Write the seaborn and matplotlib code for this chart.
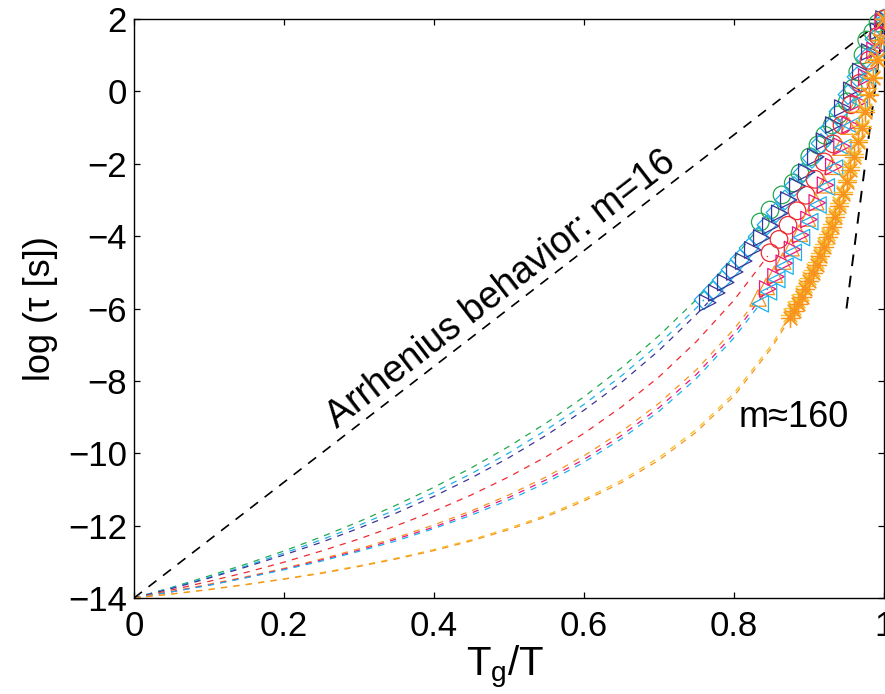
import numpy as np
import pandas as pd
import matplotlib
matplotlib.use("Agg")
import matplotlib.pyplot as plt
import seaborn as sns

# ---------------- data ----------------
FIT_GRID = [0.0, 0.05, 0.10, 0.15, 0.20, 0.25, 0.30, 0.35, 0.40, 0.45,
            0.50, 0.55, 0.60, 0.65, 0.70, 0.75, 0.80, 0.85]

# dashed fit curves (end x appended to the grid)
FIT_END_A = 0.835
FIT_Y_A = [-14, -13.71, -13.39, -13.06, -12.70, -12.31, -11.89, -11.43, -10.94, -10.40,
           -9.81, -9.16, -8.44, -7.64, -6.75, -5.75, -4.61, -3.72]
FIT_END_B = 0.76
FIT_Y_B = [-14, -13.72, -13.43, -13.11, -12.76, -12.39, -11.99, -11.55, -11.08, -10.56,
           -9.99, -9.35, -8.65, -7.86, -6.98, -5.98, -5.76]
FIT_END_C = 0.765
FIT_Y_C = [-14, -13.74, -13.45, -13.14, -12.81, -12.46, -12.07, -11.65, -11.19, -10.68,
           -10.12, -9.50, -8.81, -8.04, -7.16, -6.16, -5.84]
FIT_END_D = 0.845
FIT_Y_D = [-14, -13.78, -13.54, -13.29, -13.01, -12.70, -12.37, -12.00, -11.60, -11.15,
           -10.65, -10.09, -9.45, -8.72, -7.89, -6.91, -5.77, -4.55]
FIT_END_E = 0.832
FIT_Y_E = [-14, -13.82, -13.62, -13.41, -13.18, -12.92, -12.64, -12.33, -11.98, -11.59,
           -11.15, -10.65, -10.07, -9.40, -8.62, -7.69, -6.57, -5.71]
FIT_END_F = 0.845
FIT_Y_F = [-14, -13.83, -13.64, -13.43, -13.20, -12.95, -12.68, -12.37, -12.04, -11.65,
           -11.22, -10.73, -10.17, -9.51, -8.74, -7.82, -6.70, -5.46]
FIT_END_G = 0.835
FIT_Y_G = [-14, -13.83, -13.65, -13.44, -13.22, -12.98, -12.71, -12.42, -12.08, -11.71,
           -11.29, -10.81, -10.25, -9.60, -8.84, -7.93, -6.81, -5.87]
FIT_END_H = 0.875
FIT_Y_H = [-14, -13.89, -13.76, -13.62, -13.47, -13.30, -13.11, -12.90, -12.66, -12.39,
           -12.07, -11.71, -11.27, -10.75, -10.12, -9.34, -8.34, -7.01, -6.17]
FIT_END_I = 0.875
FIT_Y_I = [-14, -13.89, -13.77, -13.63, -13.48, -13.32, -13.13, -12.92, -12.69, -12.42,
           -12.11, -11.75, -11.32, -10.81, -10.19, -9.41, -8.42, -7.09, -6.26]

# measured points
PTS_X_A = [0.835, 0.848, 0.864, 0.879, 0.888, 0.901, 0.912, 0.921, 0.931, 0.939,
           0.951, 0.959, 0.965, 0.972, 0.977, 0.985, 0.992, 1.0]
PTS_Y_A = [-3.61, -3.28, -2.86, -2.53, -2.26, -1.81, -1.48, -1.21, -0.93, -0.65,
           -0.29, 0.09, 0.54, 1.01, 1.42, 1.64, 1.89, 2.0]
PTS_X_B = [0.76, 0.772, 0.784, 0.796, 0.808, 0.82, 0.832, 0.844, 0.856, 0.868, 0.88,
           0.892, 0.904, 0.916, 0.928, 0.94, 0.952, 0.964, 0.976, 0.988, 1.0]
PTS_Y_B = [-5.76, -5.50, -5.22, -4.93, -4.64, -4.33, -4.02, -3.69, -3.35, -3.00, -2.63,
           -2.25, -1.85, -1.44, -1.01, -0.56, -0.09, 0.40, 0.91, 1.44, 2.0]
PTS_X_C = [0.765, 0.777, 0.789, 0.801, 0.813, 0.825, 0.837, 0.849, 0.861, 0.873, 0.885,
           0.897, 0.909, 0.921, 0.933, 0.945, 0.957, 0.969, 0.981, 0.993, 1.0]
PTS_Y_C = [-5.84, -5.57, -5.28, -4.99, -4.69, -4.38, -4.05, -3.72, -3.37, -3.00, -2.62,
           -2.23, -1.81, -1.38, -0.93, -0.46, 0.03, 0.55, 1.09, 1.66, 2.0]
PTS_X_D = [0.848, 0.86, 0.872, 0.884, 0.896, 0.908, 0.92, 0.932, 0.944, 0.956, 0.968,
           0.98, 0.992, 1.0]
PTS_Y_D = [-4.46, -4.09, -3.70, -3.30, -2.87, -2.43, -1.95, -1.45, -0.93, -0.37, 0.23,
           0.86, 1.53, 2.0]
PTS_X_E = [0.832, 0.843, 0.854, 0.865, 0.876, 0.887, 0.898, 0.909, 0.92, 0.931, 0.942,
           0.953, 0.964, 0.975, 0.986, 0.997]
PTS_Y_E = [-5.71, -5.39, -5.05, -4.69, -4.32, -3.92, -3.50, -3.05, -2.58, -2.07, -1.54,
           -0.96, -0.35, 0.31, 1.02, 1.78]
PTS_X_F = [0.845, 0.856, 0.867, 0.878, 0.889, 0.9, 0.911, 0.922, 0.933, 0.944, 0.955,
           0.966, 0.977, 0.988, 0.999]
PTS_Y_F = [-5.46, -5.12, -4.75, -4.37, -3.97, -3.54, -3.08, -2.59, -2.08, -1.52, -0.93,
           -0.30, 0.39, 1.13, 1.92]
PTS_X_G = [0.835, 0.846, 0.857, 0.868, 0.879, 0.89, 0.901, 0.912, 0.923, 0.934, 0.945,
           0.956, 0.967, 0.978, 0.989, 1.0]
PTS_Y_G = [-5.87, -5.54, -5.20, -4.83, -4.45, -4.04, -3.60, -3.14, -2.64, -2.12, -1.55,
           -0.95, -0.29, 0.41, 1.17, 2.0]
PTS_X_H = [0.875, 0.88, 0.885, 0.89, 0.895, 0.9, 0.905, 0.91, 0.915, 0.92, 0.925, 0.93,
           0.935, 0.94, 0.945, 0.95, 0.955, 0.96, 0.965, 0.97, 0.975, 0.98, 0.985, 0.99,
           0.995, 1.0]
PTS_Y_H = [-6.17, -5.98, -5.79, -5.59, -5.38, -5.17, -4.94, -4.71, -4.47, -4.21, -3.95,
           -3.67, -3.39, -3.09, -2.77, -2.44, -2.09, -1.73, -1.35, -0.95, -0.52, -0.07,
           0.40, 0.90, 1.43, 2.0]
PTS_X_I = PTS_X_H
PTS_Y_I = [-6.26, -6.07, -5.88, -5.68, -5.47, -5.25, -5.03, -4.79, -4.55, -4.30, -4.03,
           -3.75, -3.47, -3.16, -2.84, -2.51, -2.16, -1.80, -1.41, -1.00, -0.57, -0.11,
           0.37, 0.88, 1.42, 2.0]

ARRHENIUS_X = [0.0, 1.0]
ARRHENIUS_Y = [-14, 2]
STEEP_X = [0.95, 1.0]
STEEP_Y = [-6, 2]

X_TICKS = [0, 0.2, 0.4, 0.6, 0.8, 1]
X_TICK_LABELS = ["0", "0.2", "0.4", "0.6", "0.8", "1"]
Y_TICKS = [-14, -12, -10, -8, -6, -4, -2, 0, 2]

SERIES = ["A", "B", "C", "D", "E", "F", "G", "H", "I"]
COLORS = {"A": "#22a84f", "B": "#1cb0ec", "C": "#3c3496", "D": "#ee2a30",
          "E": "#f7931e", "F": "#e8177f", "G": "#1cb0ec", "H": "#f5c22a", "I": "#f7931e"}
MARKERS = {"A": "o", "B": "D", "C": ">", "D": "o", "E": "^", "F": ">", "G": "<",
           "H": (8, 2, 0), "I": (8, 2, 0)}
SIZES = {"A": 160, "B": 100, "C": 140, "D": 160, "E": 140, "F": 140, "G": 140,
         "H": 170, "I": 170}

FIT_Y = {"A": FIT_Y_A, "B": FIT_Y_B, "C": FIT_Y_C, "D": FIT_Y_D, "E": FIT_Y_E,
         "F": FIT_Y_F, "G": FIT_Y_G, "H": FIT_Y_H, "I": FIT_Y_I}
FIT_END = {"A": FIT_END_A, "B": FIT_END_B, "C": FIT_END_C, "D": FIT_END_D,
           "E": FIT_END_E, "F": FIT_END_F, "G": FIT_END_G, "H": FIT_END_H, "I": FIT_END_I}
PTS = {"A": (PTS_X_A, PTS_Y_A), "B": (PTS_X_B, PTS_Y_B), "C": (PTS_X_C, PTS_Y_C),
       "D": (PTS_X_D, PTS_Y_D), "E": (PTS_X_E, PTS_Y_E), "F": (PTS_X_F, PTS_Y_F),
       "G": (PTS_X_G, PTS_Y_G), "H": (PTS_X_H, PTS_Y_H), "I": (PTS_X_I, PTS_Y_I)}

# ---------------- style ----------------
sns.set_style("ticks")
plt.rcParams["font.family"] = ["Liberation Sans", "DejaVu Sans"]
plt.rcParams["mathtext.fontset"] = "custom"
plt.rcParams["mathtext.rm"] = "Liberation Sans"
plt.rcParams["mathtext.it"] = "Liberation Sans:italic"
plt.rcParams["text.color"] = "black"

fig = plt.figure(figsize=(8.85, 6.94), dpi=100)
ax = fig.add_axes([134 / 885, 96 / 694, 750 / 885, 579 / 694])

# dashed fits
for s in SERIES:
    ys = FIT_Y[s]
    xs = FIT_GRID[:len(ys) - 1] + [FIT_END[s]]
    df = pd.DataFrame({"x": xs, "y": ys})
    sns.lineplot(data=df, x="x", y="y", color=COLORS[s], sort=False, estimator=None,
                 lw=0.9, ax=ax, legend=False, zorder=2)
    ax.lines[-1].set_dashes((5, 5))

# black reference lines
df_a = pd.DataFrame({"x": ARRHENIUS_X, "y": ARRHENIUS_Y})
sns.lineplot(data=df_a, x="x", y="y", color="black", lw=1.2, sort=False,
             estimator=None, ax=ax, legend=False, zorder=3)
ax.lines[-1].set_dashes((6, 5))
df_s = pd.DataFrame({"x": STEEP_X, "y": STEEP_Y})
sns.lineplot(data=df_s, x="x", y="y", color="black", lw=1.4, sort=False,
             estimator=None, ax=ax, legend=False, zorder=3)
ax.lines[-1].set_dashes((6, 5))

# markers
for s in SERIES:
    xs, ys = PTS[s]
    df = pd.DataFrame({"x": xs, "y": ys})
    if s in ("H", "I"):
        # line-art asterisk: colour comes from the face colour
        sns.scatterplot(data=df, x="x", y="y", marker=MARKERS[s], s=SIZES[s],
                        color=COLORS[s], linewidth=0.9,
                        ax=ax, legend=False, zorder=4, clip_on=False)
    else:
        sns.scatterplot(data=df, x="x", y="y", marker=MARKERS[s], s=SIZES[s],
                        facecolor="none", edgecolor=COLORS[s], linewidth=0.9,
                        ax=ax, legend=False, zorder=4, clip_on=False)

ax.set_xlim(0, 1)
ax.set_ylim(-14, 2)
ax.set_xticks(X_TICKS)
ax.set_xticklabels(X_TICK_LABELS)
ax.set_yticks(Y_TICKS)
ax.set_xlabel("")
ax.set_ylabel("")
ax.tick_params(direction="in", length=4.5, width=0.9, top=True, right=True,
               labelsize=25, colors="black")
ax.tick_params(axis="x", pad=9)
ax.tick_params(axis="y", pad=5)
for sp in ax.spines.values():
    sp.set_visible(True)
    sp.set_color("black")
    sp.set_linewidth(1.0)

ax.text(0.495, -0.136, r"$\mathrm{T_g/T}$", transform=ax.transAxes,
        ha="center", va="baseline", fontsize=29, color="black")
ax.text(-0.125, 0.5, "log (τ [s])", transform=ax.transAxes, rotation=90,
        ha="center", va="center", fontsize=26, color="black")
ax.text(0.489, -5.49, "Arrhenius behavior: m=16", rotation=37.7,
        rotation_mode="anchor", ha="center", va="center", fontsize=27, color="black")
ax.text(0.879, -9.02, "m≈160", ha="center", va="center", fontsize=26, color="black")

fig.savefig("out.png", dpi=100)
